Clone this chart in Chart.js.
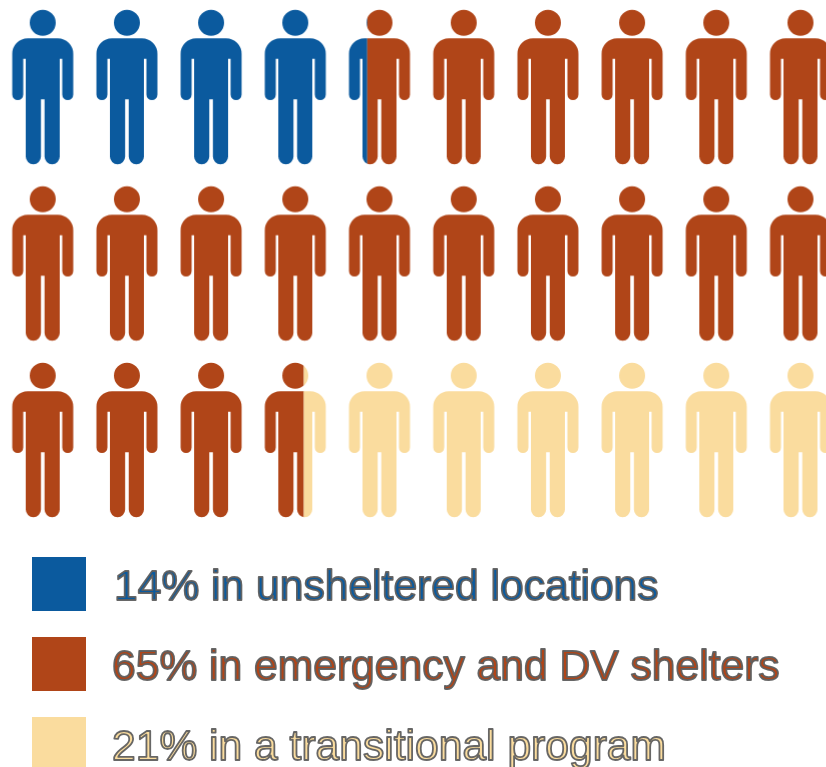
<!DOCTYPE html>
<html>
<head>
<meta charset="utf-8">
<style>
  html, body { margin: 0; padding: 0; background: #fff; }
  #wrap { position: relative; width: 826px; height: 767px; overflow: hidden; }
  canvas { display: block; }
</style>
<script src="https://cdn.jsdelivr.net/npm/chart.js@4"></script>
</head>
<body>
<div id="wrap"><canvas id="people" width="826" height="767"></canvas></div>
<script>
// Where 30 people were staying: each figure stands for one person.
const labels = [
  "14% in unsheltered locations",
  "65% in emergency and DV shelters",
  "21% in a transitional program"
];
// Figures filled by each group, out of 30.
const peopleFilled = [4.3, 19.34, 6.36];
const colors = ["#0B5A9E", "#B04518", "#FADC9E"];
const columns = 10;
const rows = 3;

// Traces the silhouette of one figure around a local origin at top centre.
function figurePath(ctx) {
  ctx.beginPath();
  ctx.arc(0, 12.7, 13, 0, Math.PI * 2);
  ctx.closePath();
  ctx.moveTo(-15, 28.3);
  ctx.lineTo(15, 28.3);
  ctx.arcTo(30.5, 28.3, 30.5, 44, 15.5);
  ctx.lineTo(30.5, 84.5);
  ctx.arc(25, 84.5, 5.5, 0, Math.PI);
  ctx.lineTo(19.5, 48.7);
  ctx.lineTo(17, 48.7);
  ctx.lineTo(17, 146.6);
  ctx.arc(9.4, 146.6, 7.6, 0, Math.PI);
  ctx.lineTo(1.8, 89.3);
  ctx.lineTo(-1.8, 89.3);
  ctx.lineTo(-1.8, 146.6);
  ctx.arc(-9.4, 146.6, 7.6, 0, Math.PI);
  ctx.lineTo(-17, 48.7);
  ctx.lineTo(-19.5, 48.7);
  ctx.lineTo(-19.5, 84.5);
  ctx.arc(-25, 84.5, 5.5, 0, Math.PI);
  ctx.lineTo(-30.5, 44);
  ctx.arcTo(-30.5, 28.3, -15, 28.3, 15.5);
  ctx.closePath();
}

// Builds the sprite for the figure at a given index, split wherever a group ends.
function figureSprite(index) {
  const halfWidth = 30.5;
  const sprite = document.createElement("canvas");
  sprite.width = 64;
  sprite.height = 158;
  const ctx = sprite.getContext("2d");
  ctx.translate(32, 2);
  let start = 0;
  peopleFilled.forEach((count, g) => {
    const end = start + count;
    const from = Math.max(start, index);
    const to = Math.min(end, index + 1);
    if (to > from) {
      const x0 = from === index ? -32 : -halfWidth + (from - index) * halfWidth * 2;
      const x1 = to === index + 1 ? 32 : -halfWidth + (to - index) * halfWidth * 2;
      ctx.save();
      ctx.beginPath();
      ctx.rect(x0, -2, x1 - x0, 158);
      ctx.clip();
      figurePath(ctx);
      ctx.fillStyle = colors[g];
      ctx.fill();
      ctx.restore();
    }
    start = end;
  });
  return sprite;
}

const points = [];
const sprites = [];
for (let r = 0; r < rows; r++) {
  for (let c = 0; c < columns; c++) {
    points.push({ x: c, y: r });
    sprites.push(figureSprite(r * columns + c));
  }
}

// Key below the grid: swatches with outlined text.
const outlinedKey = {
  id: "outlinedKey",
  afterDraw(chart) {
    const ctx = chart.ctx;
    const swatchTops = [557, 637, 717];
    const textX = [114, 112, 112];
    ctx.save();
    ctx.font = '42.6px "Liberation Sans", Arial, sans-serif';
    ctx.textBaseline = "alphabetic";
    ctx.lineJoin = "round";
    labels.forEach((label, i) => {
      ctx.fillStyle = colors[i];
      ctx.fillRect(32, swatchTops[i], 54, 54);
      ctx.fillText(label, textX[i], swatchTops[i] + 43);
      ctx.strokeStyle = "rgba(95,95,95,0.95)";
      ctx.lineWidth = 1.8;
      ctx.strokeText(label, textX[i], swatchTops[i] + 43);
    });
    ctx.restore();
  }
};

new Chart(document.getElementById("people"), {
  type: "scatter",
  data: {
    datasets: [{
      label: "People",
      data: points,
      pointStyle: sprites,
      pointRadius: 30,
      clip: false
    }]
  },
  options: {
    responsive: false,
    animation: false,
    layout: { padding: 0, autoPadding: false },
    scales: {
      x: { type: "linear", display: false, min: -0.507, max: 9.303 },
      y: { type: "linear", display: false, reverse: true, min: -0.493, max: 3.853 }
    },
    plugins: { legend: { display: false }, tooltip: { enabled: false } }
  },
  plugins: [outlinedKey]
});
</script>
</body>
</html>
